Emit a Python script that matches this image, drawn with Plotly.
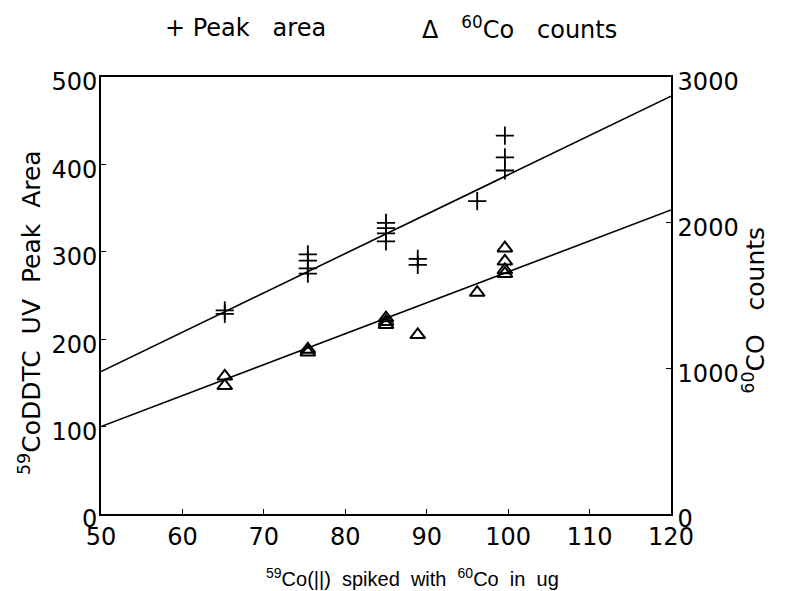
import plotly.graph_objects as go

# Peak area data (left axis)
x_peak = [65.2, 65.2, 75.4, 75.4, 75.4, 75.4, 85.0, 85.0, 85.0, 85.0, 88.9, 88.9, 96.2, 99.6, 99.6, 99.6]
peak_area = [233, 229, 297, 290, 281, 275, 333, 327, 321, 312, 292, 285, 358, 433, 408, 393]

# 60Co counts data (right axis)
x_counts = [65.2, 65.2, 75.4, 75.4, 85.0, 85.0, 85.0, 88.9, 96.2, 99.6, 99.6, 99.6, 99.6]
co_counts = [945, 880, 1130, 1110, 1345, 1320, 1300, 1230, 1520, 1825, 1735, 1675, 1650]

# fitted lines
x_fit = [50, 120]
peak_fit = [163, 478]
counts_fit = [600, 2087]

x_ticks = [50, 60, 70, 80, 90, 100, 110, 120]
y_ticks = [0, 100, 200, 300, 400, 500]
y2_ticks = [0, 1000, 2000, 3000]

FONT = "DejaVu Sans"
FONT2 = "Liberation Sans"

fig = go.Figure()
fig.add_trace(go.Scatter(x=x_fit, y=peak_fit, mode="lines",
                         line=dict(color="black", width=1.6), showlegend=False))
fig.add_trace(go.Scatter(x=x_peak, y=peak_area, mode="markers",
                         marker=dict(symbol="cross-thin-open", size=13, color="black",
                                     line=dict(color="black", width=1.8)),
                         showlegend=False))
fig.add_trace(go.Scatter(x=x_fit, y=counts_fit, mode="lines", yaxis="y2",
                         line=dict(color="black", width=1.6), showlegend=False))
fig.add_trace(go.Scatter(x=x_counts, y=co_counts, mode="markers", yaxis="y2",
                         marker=dict(symbol="triangle-up-open", size=13, color="black",
                                     line=dict(color="black", width=2)),
                         showlegend=False))

axis_common = dict(showgrid=False, zeroline=False, showline=True, linecolor="black",
                   linewidth=1.6, ticks="inside", ticklen=5, tickcolor="black",
                   tickfont=dict(family=FONT, size=24, color="black"))

fig.update_layout(
    width=777, height=583,
    margin=dict(l=93, r=114, t=69, b=77),
    paper_bgcolor="white", plot_bgcolor="white",
    font=dict(family=FONT, color="black"),
    xaxis=dict(range=[50, 120], tickvals=x_ticks, mirror=True, **axis_common),
    yaxis=dict(range=[0, 500], tickvals=y_ticks, ticklabelshift=5,
               ticklabelstandoff=-3, **axis_common),
    yaxis2=dict(range=[0, 3000], tickvals=y2_ticks, overlaying="y", side="right",
                ticklabelshift=5, **axis_common),
    annotations=[
        dict(text="+ Peak   area", x=0.109, y=1.0, xref="paper", yref="paper",
             yanchor="middle", xanchor="left", yshift=49, showarrow=False,
             font=dict(family=FONT, size=24)),
        dict(text="Δ   <sup>60</sup>Co   counts", x=0.56, y=1.0, xref="paper", yref="paper",
             yanchor="middle", xanchor="left", yshift=49, showarrow=False,
             font=dict(family=FONT, size=24)),
        dict(text="<sup>59</sup>Co(||)  spiked  with  <sup>60</sup>Co  in  ug",
             x=0.546, y=-0.146, xref="paper", yref="paper",
             xanchor="center", yanchor="middle", showarrow=False,
             font=dict(family=FONT2, size=20)),
        dict(text="<sup>59</sup>CoDDTC  UV  Peak  Area", textangle=-90,
             x=-0.1246, y=0.462, xref="paper", yref="paper",
             xanchor="center", yanchor="middle", showarrow=False,
             font=dict(family=FONT, size=25)),
        dict(text="<sup>60</sup>CO   counts", textangle=-90,
             x=1.147, y=0.467, xref="paper", yref="paper",
             xanchor="center", yanchor="middle", showarrow=False,
             font=dict(family=FONT, size=25)),
    ],
)

fig.write_html("out.html")
